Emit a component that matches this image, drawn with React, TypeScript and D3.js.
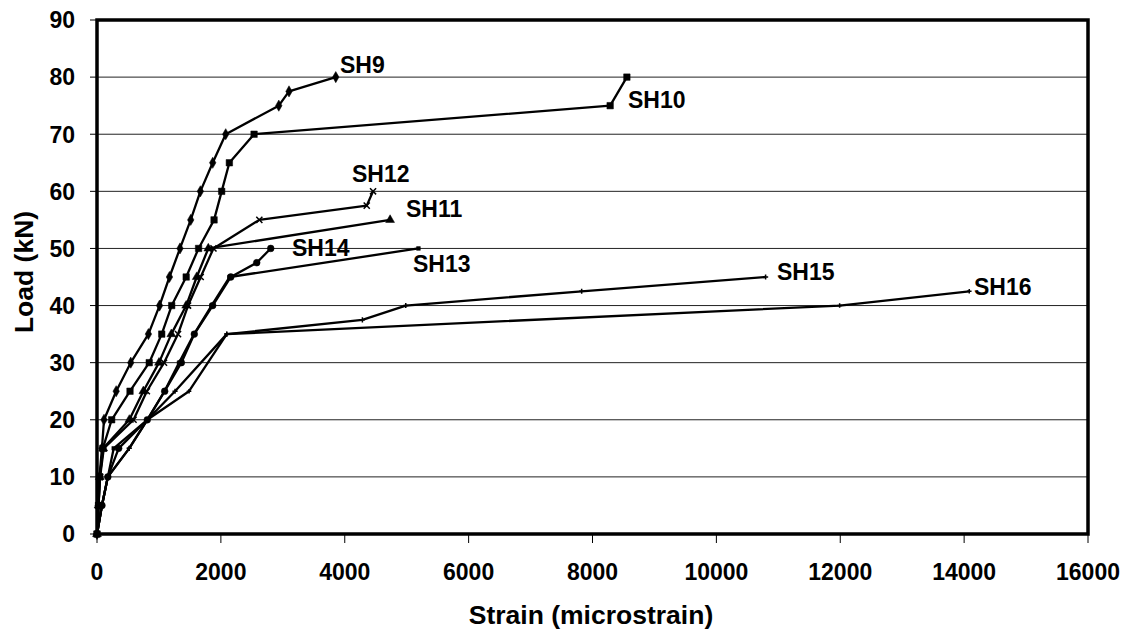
import React from "react";
import * as d3 from "d3";

// Load–strain readings for the tested specimens (strain in microstrain, load in kN)
const sh9Strain = [0, 20, 40, 80, 113, 310, 545, 830, 1010, 1170, 1340, 1513, 1669, 1868, 2078, 2935, 3100, 3855];
const sh9Load = [0, 5, 10, 15, 20, 25, 30, 35, 40, 45, 50, 55, 60, 65, 70, 75, 77.5, 80];

const sh10Strain = [0, 25, 45, 95, 237, 533, 843, 1045, 1206, 1440, 1640, 1890, 2013, 2137, 2536, 8285, 8555];
const sh10Load = [0, 5, 10, 15, 20, 25, 30, 35, 40, 45, 50, 55, 60, 65, 70, 75, 80];

const sh11Strain = [0, 25, 45, 100, 522, 748, 1001, 1200, 1440, 1610, 1797, 4732];
const sh11Load = [0, 5, 10, 15, 20, 25, 30, 35, 40, 45, 50, 55];

const sh12Strain = [0, 25, 50, 110, 590, 805, 1082, 1308, 1470, 1674, 1880, 2621, 4355, 4457];
const sh12Load = [0, 5, 10, 15, 20, 25, 30, 35, 40, 45, 50, 55, 57.5, 60];

const sh13Strain = [0, 80, 175, 270, 812, 1090, 1324, 1567, 1850, 2140, 5190];
const sh13Load = [0, 5, 10, 15, 20, 25, 30, 35, 40, 45, 50];

const sh14Strain = [0, 80, 175, 350, 812, 1093, 1362, 1571, 1868, 2160, 2579, 2805];
const sh14Load = [0, 5, 10, 15, 20, 25, 30, 35, 40, 45, 47.5, 50];

const sh15Strain = [0, 80, 175, 520, 812, 1260, 2095, 4285, 4985, 7825, 10795];
const sh15Load = [0, 5, 10, 15, 20, 25, 35, 37.5, 40, 42.5, 45];

const sh16Strain = [0, 80, 175, 520, 812, 1486, 2095, 11990, 14083];
const sh16Load = [0, 5, 10, 15, 20, 25, 35, 40, 42.5];

const seriesNames = ["SH9", "SH10", "SH11", "SH12", "SH13", "SH14", "SH15", "SH16"];
const strainSets = [sh9Strain, sh10Strain, sh11Strain, sh12Strain, sh13Strain, sh14Strain, sh15Strain, sh16Strain];
const loadSets = [sh9Load, sh10Load, sh11Load, sh12Load, sh13Load, sh14Load, sh15Load, sh16Load];

const xTicks = [0, 2000, 4000, 6000, 8000, 10000, 12000, 14000, 16000];
const yTicks = [0, 10, 20, 30, 40, 50, 60, 70, 80, 90];

// Marker style per series
const markerTypes = [
  { sym: d3.symbolDiamond, size: 36, fill: true },
  { sym: d3.symbolSquare, size: 42, fill: true },
  { sym: d3.symbolTriangle, size: 34, fill: true },
  { sym: d3.symbolTimes, size: 26, fill: false },
  { sym: d3.symbolSquare, size: 14, fill: true },
  { sym: d3.symbolCircle, size: 36, fill: true },
  { sym: d3.symbolPlus, size: 10, fill: false },
  { sym: d3.symbolPlus, size: 8, fill: false },
];

// Label anchor points (in data units) for each specimen name
const labelStrain = [3923, 8573, 4989, 4117, 5102, 3148, 10979, 14160];
const labelLoad = [80.7, 74.6, 55.5, 61.6, 45.9, 48.7, 44.5, 41.85];

const W = 1127;
const H = 633;
const left = 97;
const right = 1088;
const top = 20;
const bottom = 534;
const FONT = "'Liberation Sans', Arial, sans-serif";

export default function App() {
  const x = d3.scaleLinear().domain([0, 16000]).range([left, right]);
  const y = d3.scaleLinear().domain([0, 90]).range([bottom, top]);
  const line = d3
    .line<[number, number]>()
    .x((d) => x(d[0]))
    .y((d) => y(d[1]));

  return (
    <svg
      width={W}
      height={H}
      style={{ position: "absolute", left: 0, top: 0, background: "#fff" }}
      fontFamily={FONT}
      fontWeight="bold"
    >
      {/* horizontal gridlines */}
      {yTicks.slice(1, -1).map((t) => (
        <line key={"g" + t} x1={left} x2={right} y1={y(t)} y2={y(t)} stroke="#222" strokeWidth={1} />
      ))}

      {/* series lines and markers */}
      {seriesNames.map((name, i) => {
        const pts: [number, number][] = strainSets[i].map((s, k) => [s, loadSets[i][k]]);
        const m = markerTypes[i];
        const path = d3.symbol().type(m.sym).size(m.size)() as string;
        return (
          <g key={name}>
            <path d={line(pts) as string} fill="none" stroke="#000" strokeWidth={2.3} strokeLinejoin="round" />
            {pts.map((p, k) => (
              <path
                key={k}
                d={path}
                transform={`translate(${x(p[0])},${y(p[1])})`}
                fill={m.fill ? "#000" : "none"}
                stroke="#000"
                strokeWidth={m.fill ? 0.5 : 1.5}
              />
            ))}
          </g>
        );
      })}

      {/* plot frame */}
      <rect x={left} y={top} width={right - left} height={bottom - top} fill="none" stroke="#000" strokeWidth={3.5} />

      {/* y axis ticks and labels */}
      {yTicks.map((t) => (
        <g key={"y" + t}>
          <line x1={left - 7} x2={left} y1={y(t)} y2={y(t)} stroke="#000" strokeWidth={1} />
          <text x={75} y={y(t)} dy="0.36em" textAnchor="end" fontSize={23}>
            {t}
          </text>
        </g>
      ))}

      {/* x axis ticks and labels */}
      {xTicks.map((t) => (
        <g key={"x" + t}>
          <line x1={x(t)} x2={x(t)} y1={bottom} y2={bottom + 9} stroke="#000" strokeWidth={1} />
          <text x={x(t)} y={580} textAnchor="middle" fontSize={23}>
            {t}
          </text>
        </g>
      ))}

      {/* specimen labels */}
      {seriesNames.map((name, i) => (
        <text key={"l" + name} x={x(labelStrain[i])} y={y(labelLoad[i])} fontSize={23}>
          {name}
        </text>
      ))}

      {/* axis titles */}
      <text x={591} y={624} textAnchor="middle" fontSize={26.5}>
        Strain (microstrain)
      </text>
      <text transform={`translate(33,${272}) rotate(-90)`} textAnchor="middle" fontSize={26.5}>
        Load (kN)
      </text>
    </svg>
  );
}
